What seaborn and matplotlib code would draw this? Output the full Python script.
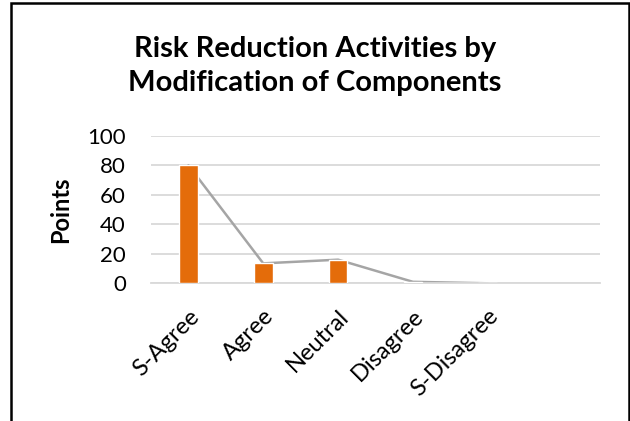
import matplotlib
matplotlib.use("Agg")
import matplotlib.pyplot as plt
import seaborn as sns
import pandas as pd
from matplotlib.patches import Rectangle

categories = ["S-Agree", "Agree", "Neutral", "Disagree", "S-Disagree", ""]
points = [80, 13.5, 16, 1, 0, None]

sns.set_theme(style="white")
plt.rcParams["font.family"] = ["Lato", "DejaVu Sans"]
plt.rcParams["text.color"] = "black"

df = pd.DataFrame({"category": categories, "points": points})

fig = plt.figure(figsize=(6.3, 4.21), dpi=100)
ax = fig.add_axes([151 / 630, 1 - 283.3 / 421, (600 - 151) / 630, (283.3 - 135.7) / 421])

# gray connecting line behind the bars
line_df = df.dropna()
ax.plot(range(len(line_df)), line_df["points"], color="#A5A5A5", lw=1.8, zorder=2)

sns.barplot(data=df, x="category", y="points", order=categories, color="#E46C0A",
            width=0.25, saturation=1, ax=ax, zorder=3)

ax.set_xlim(-0.5, len(categories) - 0.5)
ax.set_ylim(0, 100)
ax.set_yticks(range(0, 101, 20))
ax.yaxis.grid(True, color="#D9D9D9", lw=1.3)
ax.set_axisbelow(True)
for side in ["top", "right", "left"]:
    ax.spines[side].set_visible(False)
ax.spines["bottom"].set_color("#D9D9D9")
ax.spines["bottom"].set_linewidth(1.3)

ax.tick_params(axis="y", labelsize=16, pad=18, length=0, labelcolor="black")
ax.tick_params(axis="x", labelsize=17, pad=16, length=0, labelcolor="black")
for lbl in ax.get_xticklabels():
    lbl.set_rotation(45)
    lbl.set_ha("right")
    lbl.set_rotation_mode("anchor")

ax.set_xlabel("")
ax.set_ylabel("Points", fontsize=17, fontweight="bold", color="black")
ax.yaxis.set_label_coords(-0.176, 0.5)

fig.text(0.5, 0.843, "Risk Reduction Activities by\nModification of Components",
         ha="center", va="center", fontsize=21, fontweight="bold",
         linespacing=1.4, color="black")

# chart border
fig.patches.append(Rectangle((11 / 630, -0.01), (629 - 11) / 630, 1 - 3 / 421 + 0.01,
                             transform=fig.transFigure, fill=False,
                             edgecolor="black", lw=1.8))

fig.savefig("out.png", dpi=100)
